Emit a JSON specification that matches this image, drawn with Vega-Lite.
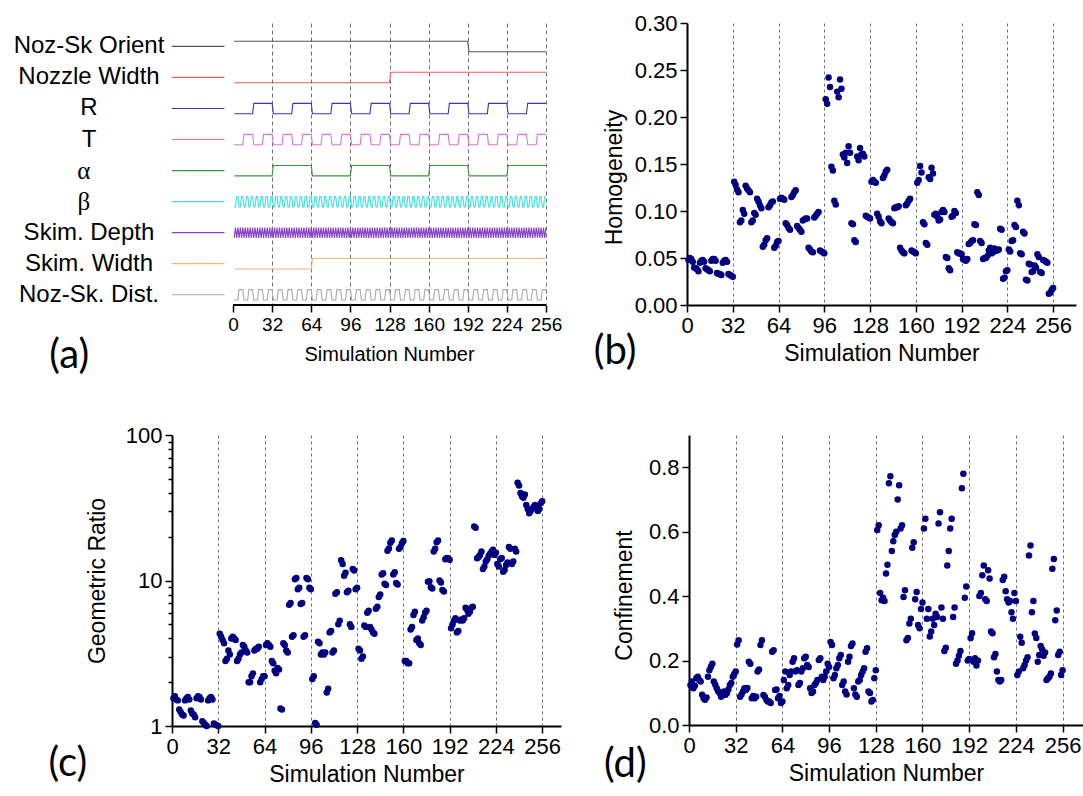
{
"$schema":"https://vega.github.io/schema/vega-lite/v6.json",
"autosize":{"type":"pad"},
"padding":{"left":13,"top":12,"right":0,"bottom":0},
"bounds":"flush",
"spacing":412,
"config":{
 "view":{"stroke":null},
 "font":"Liberation Sans",
 "axis":{"domainColor":"#000","domainWidth":2,"tickColor":"#000","tickWidth":1.5,"labelColor":"#000","labelFont":"Liberation Sans","labelFontSize":22,"titleFont":"Liberation Sans","titleFontSize":23,"titleFontWeight":"normal","titleColor":"#000","labelFlush":false,"labelOverlap":false,"labelBound":false,"grid":false,"labelPadding":3}
},
"datasets":{
"sig":[{"k":"o","lab":"Noz-Sk Orient"},{"k":"w","lab":"Nozzle Width"},{"k":"r","lab":"R"},{"k":"t","lab":"T"},{"k":"a","lab":"α"},{"k":"b","lab":"β"},{"k":"d","lab":"Skim. Depth"},{"k":"s","lab":"Skim. Width"},{"k":"z","lab":"Noz-Sk. Dist."}],
"sim":[
{"n":1,"o":1,"w":0,"s":0,"a":0,"r":0,"t":0,"z":0,"b":0,"d":0,"h":0.048,"q":1.55,"c":0.124},
{"n":2,"o":1,"w":0,"s":0,"a":0,"r":0,"t":0,"z":0,"b":0,"d":1,"h":0.050,"q":1.6,"c":0.135},
{"n":3,"o":1,"w":0,"s":0,"a":0,"r":0,"t":0,"z":0,"b":1,"d":0,"h":0.049,"q":1.52,"c":0.114},
{"n":4,"o":1,"w":0,"s":0,"a":0,"r":0,"t":0,"z":0,"b":1,"d":1,"h":0.046,"q":1.5,"c":0.122},
{"n":5,"o":1,"w":0,"s":0,"a":0,"r":0,"t":0,"z":1,"b":0,"d":0,"h":0.040,"q":1.3,"c":0.145},
{"n":6,"o":1,"w":0,"s":0,"a":0,"r":0,"t":0,"z":1,"b":0,"d":1,"h":0.039,"q":1.25,"c":0.15},
{"n":7,"o":1,"w":0,"s":0,"a":0,"r":0,"t":0,"z":1,"b":1,"d":0,"h":0.038,"q":1.2,"c":0.14},
{"n":8,"o":1,"w":0,"s":0,"a":0,"r":0,"t":0,"z":1,"b":1,"d":1,"h":0.036,"q":1.18,"c":0.135},
{"n":9,"o":1,"w":0,"s":0,"a":0,"r":0,"t":1,"z":0,"b":0,"d":0,"h":0.045,"q":1.5,"c":0.094},
{"n":10,"o":1,"w":0,"s":0,"a":0,"r":0,"t":1,"z":0,"b":0,"d":1,"h":0.047,"q":1.55,"c":0.083},
{"n":11,"o":1,"w":0,"s":0,"a":0,"r":0,"t":1,"z":0,"b":1,"d":0,"h":0.048,"q":1.58,"c":0.078},
{"n":12,"o":1,"w":0,"s":0,"a":0,"r":0,"t":1,"z":0,"b":1,"d":1,"h":0.046,"q":1.52,"c":0.085},
{"n":13,"o":1,"w":0,"s":0,"a":0,"r":0,"t":1,"z":1,"b":0,"d":0,"h":0.039,"q":1.28,"c":0.15},
{"n":14,"o":1,"w":0,"s":0,"a":0,"r":0,"t":1,"z":1,"b":0,"d":1,"h":0.038,"q":1.22,"c":0.17},
{"n":15,"o":1,"w":0,"s":0,"a":0,"r":0,"t":1,"z":1,"b":1,"d":0,"h":0.037,"q":1.2,"c":0.181},
{"n":16,"o":1,"w":0,"s":0,"a":0,"r":0,"t":1,"z":1,"b":1,"d":1,"h":0.036,"q":1.15,"c":0.19},
{"n":17,"o":1,"w":0,"s":0,"a":0,"r":1,"t":0,"z":0,"b":0,"d":0,"h":0.047,"q":1.55,"c":0.135},
{"n":18,"o":1,"w":0,"s":0,"a":0,"r":1,"t":0,"z":0,"b":0,"d":1,"h":0.049,"q":1.6,"c":0.125},
{"n":19,"o":1,"w":0,"s":0,"a":0,"r":1,"t":0,"z":0,"b":1,"d":0,"h":0.049,"q":1.58,"c":0.114},
{"n":20,"o":1,"w":0,"s":0,"a":0,"r":1,"t":0,"z":0,"b":1,"d":1,"h":0.047,"q":1.52,"c":0.105},
{"n":21,"o":1,"w":0,"s":0,"a":0,"r":1,"t":0,"z":1,"b":0,"d":0,"h":0.034,"q":1.08,"c":0.099},
{"n":22,"o":1,"w":0,"s":0,"a":0,"r":1,"t":0,"z":1,"b":0,"d":1,"h":0.033,"q":1.05,"c":0.088},
{"n":23,"o":1,"w":0,"s":0,"a":0,"r":1,"t":0,"z":1,"b":1,"d":0,"h":0.033,"q":1.02,"c":0.092},
{"n":24,"o":1,"w":0,"s":0,"a":0,"r":1,"t":0,"z":1,"b":1,"d":1,"h":0.032,"q":1.0,"c":0.104},
{"n":25,"o":1,"w":0,"s":0,"a":0,"r":1,"t":1,"z":0,"b":0,"d":0,"h":0.045,"q":1.5,"c":0.094},
{"n":26,"o":1,"w":0,"s":0,"a":0,"r":1,"t":1,"z":0,"b":0,"d":1,"h":0.047,"q":1.55,"c":0.099},
{"n":27,"o":1,"w":0,"s":0,"a":0,"r":1,"t":1,"z":0,"b":1,"d":0,"h":0.048,"q":1.58,"c":0.11},
{"n":28,"o":1,"w":0,"s":0,"a":0,"r":1,"t":1,"z":0,"b":1,"d":1,"h":0.046,"q":1.52,"c":0.124},
{"n":29,"o":1,"w":0,"s":0,"a":0,"r":1,"t":1,"z":1,"b":0,"d":0,"h":0.033,"q":1.04,"c":0.13},
{"n":30,"o":1,"w":0,"s":0,"a":0,"r":1,"t":1,"z":1,"b":0,"d":1,"h":0.032,"q":1.02,"c":0.15},
{"n":31,"o":1,"w":0,"s":0,"a":0,"r":1,"t":1,"z":1,"b":1,"d":0,"h":0.031,"q":1.01,"c":0.158},
{"n":32,"o":1,"w":0,"s":0,"a":0,"r":1,"t":1,"z":1,"b":1,"d":1,"h":0.030,"q":1.0,"c":0.166},
{"n":33,"o":1,"w":0,"s":0,"a":1,"r":0,"t":0,"z":0,"b":0,"d":0,"h":0.131,"q":4.3,"c":0.25},
{"n":34,"o":1,"w":0,"s":0,"a":1,"r":0,"t":0,"z":0,"b":0,"d":1,"h":0.128,"q":4.1,"c":0.263},
{"n":35,"o":1,"w":0,"s":0,"a":1,"r":0,"t":0,"z":0,"b":1,"d":0,"h":0.123,"q":3.9,"c":0.088},
{"n":36,"o":1,"w":0,"s":0,"a":1,"r":0,"t":0,"z":0,"b":1,"d":1,"h":0.120,"q":3.7,"c":0.095},
{"n":37,"o":1,"w":0,"s":0,"a":1,"r":0,"t":0,"z":1,"b":0,"d":0,"h":0.088,"q":2.8,"c":0.104},
{"n":38,"o":1,"w":0,"s":0,"a":1,"r":0,"t":0,"z":1,"b":0,"d":1,"h":0.090,"q":2.9,"c":0.114},
{"n":39,"o":1,"w":0,"s":0,"a":1,"r":0,"t":0,"z":1,"b":1,"d":0,"h":0.101,"q":3.3,"c":0.109},
{"n":40,"o":1,"w":0,"s":0,"a":1,"r":0,"t":0,"z":1,"b":1,"d":1,"h":0.097,"q":3.1,"c":0.115},
{"n":41,"o":1,"w":0,"s":0,"a":1,"r":0,"t":1,"z":0,"b":0,"d":0,"h":0.127,"q":4.0,"c":0.196},
{"n":42,"o":1,"w":0,"s":0,"a":1,"r":0,"t":1,"z":0,"b":0,"d":1,"h":0.124,"q":4.1,"c":0.19},
{"n":43,"o":1,"w":0,"s":0,"a":1,"r":0,"t":1,"z":0,"b":1,"d":0,"h":0.122,"q":4.0,"c":0.083},
{"n":44,"o":1,"w":0,"s":0,"a":1,"r":0,"t":1,"z":0,"b":1,"d":1,"h":0.120,"q":3.9,"c":0.09},
{"n":45,"o":1,"w":0,"s":0,"a":1,"r":0,"t":1,"z":1,"b":0,"d":0,"h":0.088,"q":2.8,"c":0.083},
{"n":46,"o":1,"w":0,"s":0,"a":1,"r":0,"t":1,"z":1,"b":0,"d":1,"h":0.090,"q":2.9,"c":0.088},
{"n":47,"o":1,"w":0,"s":0,"a":1,"r":0,"t":1,"z":1,"b":1,"d":0,"h":0.098,"q":3.1,"c":0.166},
{"n":48,"o":1,"w":0,"s":0,"a":1,"r":0,"t":1,"z":1,"b":1,"d":1,"h":0.096,"q":3.2,"c":0.172},
{"n":49,"o":1,"w":0,"s":0,"a":1,"r":1,"t":0,"z":0,"b":0,"d":0,"h":0.113,"q":3.6,"c":0.248},
{"n":50,"o":1,"w":0,"s":0,"a":1,"r":1,"t":0,"z":0,"b":0,"d":1,"h":0.110,"q":3.5,"c":0.263},
{"n":51,"o":1,"w":0,"s":0,"a":1,"r":1,"t":0,"z":0,"b":1,"d":0,"h":0.106,"q":3.3,"c":0.093},
{"n":52,"o":1,"w":0,"s":0,"a":1,"r":1,"t":0,"z":0,"b":1,"d":1,"h":0.103,"q":3.2,"c":0.088},
{"n":53,"o":1,"w":0,"s":0,"a":1,"r":1,"t":0,"z":1,"b":0,"d":0,"h":0.062,"q":2.0,"c":0.078},
{"n":54,"o":1,"w":0,"s":0,"a":1,"r":1,"t":0,"z":1,"b":0,"d":1,"h":0.064,"q":2.0,"c":0.073},
{"n":55,"o":1,"w":0,"s":0,"a":1,"r":1,"t":0,"z":1,"b":1,"d":0,"h":0.069,"q":2.2,"c":0.073},
{"n":56,"o":1,"w":0,"s":0,"a":1,"r":1,"t":0,"z":1,"b":1,"d":1,"h":0.071,"q":2.3,"c":0.068},
{"n":57,"o":1,"w":0,"s":0,"a":1,"r":1,"t":1,"z":0,"b":0,"d":0,"h":0.104,"q":3.3,"c":0.227},
{"n":58,"o":1,"w":0,"s":0,"a":1,"r":1,"t":1,"z":0,"b":0,"d":1,"h":0.106,"q":3.4,"c":0.232},
{"n":59,"o":1,"w":0,"s":0,"a":1,"r":1,"t":1,"z":0,"b":1,"d":0,"h":0.109,"q":3.4,"c":0.109},
{"n":60,"o":1,"w":0,"s":0,"a":1,"r":1,"t":1,"z":0,"b":1,"d":1,"h":0.110,"q":3.5,"c":0.11},
{"n":61,"o":1,"w":0,"s":0,"a":1,"r":1,"t":1,"z":1,"b":0,"d":0,"h":0.061,"q":2.0,"c":0.083},
{"n":62,"o":1,"w":0,"s":0,"a":1,"r":1,"t":1,"z":1,"b":0,"d":1,"h":0.063,"q":2.1,"c":0.09},
{"n":63,"o":1,"w":0,"s":0,"a":1,"r":1,"t":1,"z":1,"b":1,"d":0,"h":0.067,"q":2.2,"c":0.068},
{"n":64,"o":1,"w":0,"s":0,"a":1,"r":1,"t":1,"z":1,"b":1,"d":1,"h":0.068,"q":2.2,"c":0.073},
{"n":65,"o":1,"w":0,"s":1,"a":0,"r":0,"t":0,"z":0,"b":0,"d":0,"h":0.113,"q":3.6,"c":0.14},
{"n":66,"o":1,"w":0,"s":1,"a":0,"r":0,"t":0,"z":0,"b":0,"d":1,"h":0.114,"q":3.7,"c":0.166},
{"n":67,"o":1,"w":0,"s":1,"a":0,"r":0,"t":0,"z":0,"b":1,"d":0,"h":0.113,"q":3.6,"c":0.114},
{"n":68,"o":1,"w":0,"s":1,"a":0,"r":0,"t":0,"z":0,"b":1,"d":1,"h":0.112,"q":3.5,"c":0.124},
{"n":69,"o":1,"w":0,"s":1,"a":0,"r":0,"t":0,"z":1,"b":0,"d":0,"h":0.087,"q":2.8,"c":0.155},
{"n":70,"o":1,"w":0,"s":1,"a":0,"r":0,"t":0,"z":1,"b":0,"d":1,"h":0.085,"q":2.7,"c":0.166},
{"n":71,"o":1,"w":0,"s":1,"a":0,"r":0,"t":0,"z":1,"b":1,"d":0,"h":0.082,"q":2.4,"c":0.196},
{"n":72,"o":1,"w":0,"s":1,"a":0,"r":0,"t":0,"z":1,"b":1,"d":1,"h":0.080,"q":2.3,"c":0.207},
{"n":73,"o":1,"w":0,"s":1,"a":0,"r":0,"t":1,"z":0,"b":0,"d":0,"h":0.115,"q":2.5,"c":0.166},
{"n":74,"o":1,"w":0,"s":1,"a":0,"r":0,"t":1,"z":0,"b":0,"d":1,"h":0.117,"q":2.45,"c":0.17},
{"n":75,"o":1,"w":0,"s":1,"a":0,"r":0,"t":1,"z":0,"b":1,"d":0,"h":0.120,"q":1.32,"c":0.124},
{"n":76,"o":1,"w":0,"s":1,"a":0,"r":0,"t":1,"z":0,"b":1,"d":1,"h":0.122,"q":1.3,"c":0.13},
{"n":77,"o":1,"w":0,"s":1,"a":0,"r":0,"t":1,"z":1,"b":0,"d":0,"h":0.084,"q":3.7,"c":0.166},
{"n":78,"o":1,"w":0,"s":1,"a":0,"r":0,"t":1,"z":1,"b":0,"d":1,"h":0.082,"q":3.6,"c":0.176},
{"n":79,"o":1,"w":0,"s":1,"a":0,"r":0,"t":1,"z":1,"b":1,"d":0,"h":0.080,"q":3.3,"c":0.207},
{"n":80,"o":1,"w":0,"s":1,"a":0,"r":0,"t":1,"z":1,"b":1,"d":1,"h":0.078,"q":3.2,"c":0.212},
{"n":81,"o":1,"w":0,"s":1,"a":0,"r":1,"t":0,"z":0,"b":0,"d":0,"h":0.090,"q":6.8,"c":0.186},
{"n":82,"o":1,"w":0,"s":1,"a":0,"r":1,"t":0,"z":0,"b":0,"d":1,"h":0.091,"q":7.0,"c":0.18},
{"n":83,"o":1,"w":0,"s":1,"a":0,"r":1,"t":0,"z":0,"b":1,"d":0,"h":0.092,"q":4.1,"c":0.114},
{"n":84,"o":1,"w":0,"s":1,"a":0,"r":1,"t":0,"z":0,"b":1,"d":1,"h":0.092,"q":4.2,"c":0.099},
{"n":85,"o":1,"w":0,"s":1,"a":0,"r":1,"t":0,"z":1,"b":0,"d":0,"h":0.061,"q":10.2,"c":0.104},
{"n":86,"o":1,"w":0,"s":1,"a":0,"r":1,"t":0,"z":1,"b":0,"d":1,"h":0.059,"q":10.4,"c":0.124},
{"n":87,"o":1,"w":0,"s":1,"a":0,"r":1,"t":0,"z":1,"b":1,"d":0,"h":0.057,"q":8.7,"c":0.13},
{"n":88,"o":1,"w":0,"s":1,"a":0,"r":1,"t":0,"z":1,"b":1,"d":1,"h":0.056,"q":8.9,"c":0.14},
{"n":89,"o":1,"w":0,"s":1,"a":0,"r":1,"t":1,"z":0,"b":0,"d":0,"h":0.093,"q":6.9,"c":0.202},
{"n":90,"o":1,"w":0,"s":1,"a":0,"r":1,"t":1,"z":0,"b":0,"d":1,"h":0.095,"q":7.0,"c":0.207},
{"n":91,"o":1,"w":0,"s":1,"a":0,"r":1,"t":1,"z":0,"b":1,"d":0,"h":0.097,"q":4.1,"c":0.15},
{"n":92,"o":1,"w":0,"s":1,"a":0,"r":1,"t":1,"z":0,"b":1,"d":1,"h":0.099,"q":4.2,"c":0.14},
{"n":93,"o":1,"w":0,"s":1,"a":0,"r":1,"t":1,"z":1,"b":0,"d":0,"h":0.058,"q":10.4,"c":0.15},
{"n":94,"o":1,"w":0,"s":1,"a":0,"r":1,"t":1,"z":1,"b":0,"d":1,"h":0.057,"q":10.2,"c":0.166},
{"n":95,"o":1,"w":0,"s":1,"a":0,"r":1,"t":1,"z":1,"b":1,"d":0,"h":0.056,"q":8.9,"c":0.19},
{"n":96,"o":1,"w":0,"s":1,"a":0,"r":1,"t":1,"z":1,"b":1,"d":1,"h":0.055,"q":8.7,"c":0.18},
{"n":97,"o":1,"w":0,"s":1,"a":1,"r":0,"t":0,"z":0,"b":0,"d":0,"h":0.219,"q":2.1,"c":0.258},
{"n":98,"o":1,"w":0,"s":1,"a":1,"r":0,"t":0,"z":0,"b":0,"d":1,"h":0.214,"q":2.2,"c":0.248},
{"n":99,"o":1,"w":0,"s":1,"a":1,"r":0,"t":0,"z":0,"b":1,"d":0,"h":0.242,"q":1.05,"c":0.145},
{"n":100,"o":1,"w":0,"s":1,"a":1,"r":0,"t":0,"z":0,"b":1,"d":1,"h":0.232,"q":1.02,"c":0.155},
{"n":101,"o":1,"w":0,"s":1,"a":1,"r":0,"t":0,"z":1,"b":0,"d":0,"h":0.147,"q":3.8,"c":0.176},
{"n":102,"o":1,"w":0,"s":1,"a":1,"r":0,"t":0,"z":1,"b":0,"d":1,"h":0.143,"q":3.7,"c":0.186},
{"n":103,"o":1,"w":0,"s":1,"a":1,"r":0,"t":0,"z":1,"b":1,"d":0,"h":0.111,"q":3.1,"c":0.207},
{"n":104,"o":1,"w":0,"s":1,"a":1,"r":0,"t":0,"z":1,"b":1,"d":1,"h":0.107,"q":3.2,"c":0.217},
{"n":105,"o":1,"w":0,"s":1,"a":1,"r":0,"t":1,"z":0,"b":0,"d":0,"h":0.227,"q":3.1,"c":0.124},
{"n":106,"o":1,"w":0,"s":1,"a":1,"r":0,"t":1,"z":0,"b":0,"d":1,"h":0.221,"q":3.2,"c":0.135},
{"n":107,"o":1,"w":0,"s":1,"a":1,"r":0,"t":1,"z":0,"b":1,"d":0,"h":0.240,"q":1.7,"c":0.104},
{"n":108,"o":1,"w":0,"s":1,"a":1,"r":0,"t":1,"z":0,"b":1,"d":1,"h":0.230,"q":1.8,"c":0.095},
{"n":109,"o":1,"w":0,"s":1,"a":1,"r":0,"t":1,"z":1,"b":0,"d":0,"h":0.160,"q":4.4,"c":0.196},
{"n":110,"o":1,"w":0,"s":1,"a":1,"r":0,"t":1,"z":1,"b":0,"d":1,"h":0.157,"q":4.5,"c":0.212},
{"n":111,"o":1,"w":0,"s":1,"a":1,"r":0,"t":1,"z":1,"b":1,"d":0,"h":0.162,"q":3.2,"c":0.245},
{"n":112,"o":1,"w":0,"s":1,"a":1,"r":0,"t":1,"z":1,"b":1,"d":1,"h":0.151,"q":3.3,"c":0.253},
{"n":113,"o":1,"w":0,"s":1,"a":1,"r":1,"t":0,"z":0,"b":0,"d":0,"h":0.169,"q":8.1,"c":0.114},
{"n":114,"o":1,"w":0,"s":1,"a":1,"r":1,"t":0,"z":0,"b":0,"d":1,"h":0.162,"q":8.3,"c":0.095},
{"n":115,"o":1,"w":0,"s":1,"a":1,"r":1,"t":0,"z":0,"b":1,"d":0,"h":0.087,"q":5.0,"c":0.088},
{"n":116,"o":1,"w":0,"s":1,"a":1,"r":1,"t":0,"z":0,"b":1,"d":1,"h":0.086,"q":5.3,"c":0.135},
{"n":117,"o":1,"w":0,"s":1,"a":1,"r":1,"t":0,"z":1,"b":0,"d":0,"h":0.069,"q":13.8,"c":0.14},
{"n":118,"o":1,"w":0,"s":1,"a":1,"r":1,"t":0,"z":1,"b":0,"d":1,"h":0.067,"q":13.0,"c":0.155},
{"n":119,"o":1,"w":0,"s":1,"a":1,"r":1,"t":0,"z":1,"b":1,"d":0,"h":0.158,"q":10.8,"c":0.166},
{"n":120,"o":1,"w":0,"s":1,"a":1,"r":1,"t":0,"z":1,"b":1,"d":1,"h":0.154,"q":11.3,"c":0.176},
{"n":121,"o":1,"w":0,"s":1,"a":1,"r":1,"t":1,"z":0,"b":0,"d":0,"h":0.167,"q":8.3,"c":0.227},
{"n":122,"o":1,"w":0,"s":1,"a":1,"r":1,"t":1,"z":0,"b":0,"d":1,"h":0.160,"q":8.5,"c":0.238},
{"n":123,"o":1,"w":0,"s":1,"a":1,"r":1,"t":1,"z":0,"b":1,"d":0,"h":0.161,"q":5.0,"c":0.104},
{"n":124,"o":1,"w":0,"s":1,"a":1,"r":1,"t":1,"z":0,"b":1,"d":1,"h":0.158,"q":4.8,"c":0.099},
{"n":125,"o":1,"w":0,"s":1,"a":1,"r":1,"t":1,"z":1,"b":0,"d":0,"h":0.095,"q":12.0,"c":0.073},
{"n":126,"o":1,"w":0,"s":1,"a":1,"r":1,"t":1,"z":1,"b":0,"d":1,"h":0.094,"q":11.7,"c":0.078},
{"n":127,"o":1,"w":0,"s":1,"a":1,"r":1,"t":1,"z":1,"b":1,"d":0,"h":0.093,"q":8.7,"c":0.145},
{"n":128,"o":1,"w":0,"s":1,"a":1,"r":1,"t":1,"z":1,"b":1,"d":1,"h":0.092,"q":8.9,"c":0.17},
{"n":129,"o":1,"w":1,"s":1,"a":0,"r":0,"t":0,"z":0,"b":0,"d":0,"h":0.131,"q":3.4,"c":0.605},
{"n":130,"o":1,"w":1,"s":1,"a":0,"r":0,"t":0,"z":0,"b":0,"d":1,"h":0.133,"q":3.3,"c":0.62},
{"n":131,"o":1,"w":1,"s":1,"a":0,"r":0,"t":0,"z":0,"b":1,"d":0,"h":0.131,"q":2.9,"c":0.41},
{"n":132,"o":1,"w":1,"s":1,"a":0,"r":0,"t":0,"z":0,"b":1,"d":1,"h":0.130,"q":3.0,"c":0.387},
{"n":133,"o":1,"w":1,"s":1,"a":0,"r":0,"t":0,"z":1,"b":0,"d":0,"h":0.097,"q":4.9,"c":0.395},
{"n":134,"o":1,"w":1,"s":1,"a":0,"r":0,"t":0,"z":1,"b":0,"d":1,"h":0.094,"q":4.8,"c":0.385},
{"n":135,"o":1,"w":1,"s":1,"a":0,"r":0,"t":0,"z":1,"b":1,"d":0,"h":0.089,"q":6.0,"c":0.47},
{"n":136,"o":1,"w":1,"s":1,"a":0,"r":0,"t":0,"z":1,"b":1,"d":1,"h":0.087,"q":6.2,"c":0.497},
{"n":137,"o":1,"w":1,"s":1,"a":0,"r":0,"t":1,"z":0,"b":0,"d":0,"h":0.135,"q":4.8,"c":0.75},
{"n":138,"o":1,"w":1,"s":1,"a":0,"r":0,"t":1,"z":0,"b":0,"d":1,"h":0.138,"q":4.6,"c":0.772},
{"n":139,"o":1,"w":1,"s":1,"a":0,"r":0,"t":1,"z":0,"b":1,"d":0,"h":0.142,"q":4.4,"c":0.54},
{"n":140,"o":1,"w":1,"s":1,"a":0,"r":0,"t":1,"z":0,"b":1,"d":1,"h":0.144,"q":4.3,"c":0.57},
{"n":141,"o":1,"w":1,"s":1,"a":0,"r":0,"t":1,"z":1,"b":0,"d":0,"h":0.092,"q":6.4,"c":0.59},
{"n":142,"o":1,"w":1,"s":1,"a":0,"r":0,"t":1,"z":1,"b":0,"d":1,"h":0.090,"q":6.6,"c":0.60},
{"n":143,"o":1,"w":1,"s":1,"a":0,"r":0,"t":1,"z":1,"b":1,"d":0,"h":0.088,"q":7.7,"c":0.70},
{"n":144,"o":1,"w":1,"s":1,"a":0,"r":0,"t":1,"z":1,"b":1,"d":1,"h":0.087,"q":8.0,"c":0.744},
{"n":145,"o":1,"w":1,"s":1,"a":0,"r":1,"t":0,"z":0,"b":0,"d":0,"h":0.103,"q":11.0,"c":0.61},
{"n":146,"o":1,"w":1,"s":1,"a":0,"r":1,"t":0,"z":0,"b":0,"d":1,"h":0.104,"q":11.2,"c":0.62},
{"n":147,"o":1,"w":1,"s":1,"a":0,"r":1,"t":0,"z":0,"b":1,"d":0,"h":0.104,"q":9.5,"c":0.397},
{"n":148,"o":1,"w":1,"s":1,"a":0,"r":1,"t":0,"z":0,"b":1,"d":1,"h":0.105,"q":9.3,"c":0.418},
{"n":149,"o":1,"w":1,"s":1,"a":0,"r":1,"t":0,"z":1,"b":0,"d":0,"h":0.061,"q":16.0,"c":0.263},
{"n":150,"o":1,"w":1,"s":1,"a":0,"r":1,"t":0,"z":1,"b":0,"d":1,"h":0.058,"q":16.6,"c":0.27},
{"n":151,"o":1,"w":1,"s":1,"a":0,"r":1,"t":0,"z":1,"b":1,"d":0,"h":0.056,"q":18.2,"c":0.315},
{"n":152,"o":1,"w":1,"s":1,"a":0,"r":1,"t":0,"z":1,"b":1,"d":1,"h":0.055,"q":18.8,"c":0.33},
{"n":153,"o":1,"w":1,"s":1,"a":0,"r":1,"t":1,"z":0,"b":0,"d":0,"h":0.106,"q":11.0,"c":0.55},
{"n":154,"o":1,"w":1,"s":1,"a":0,"r":1,"t":1,"z":0,"b":0,"d":1,"h":0.108,"q":11.4,"c":0.567},
{"n":155,"o":1,"w":1,"s":1,"a":0,"r":1,"t":1,"z":0,"b":1,"d":0,"h":0.111,"q":9.6,"c":0.39},
{"n":156,"o":1,"w":1,"s":1,"a":0,"r":1,"t":1,"z":0,"b":1,"d":1,"h":0.113,"q":9.4,"c":0.413},
{"n":157,"o":1,"w":1,"s":1,"a":0,"r":1,"t":1,"z":1,"b":0,"d":0,"h":0.058,"q":16.5,"c":0.31},
{"n":158,"o":1,"w":1,"s":1,"a":0,"r":1,"t":1,"z":1,"b":0,"d":1,"h":0.057,"q":17.0,"c":0.30},
{"n":159,"o":1,"w":1,"s":1,"a":0,"r":1,"t":1,"z":1,"b":1,"d":0,"h":0.056,"q":18.0,"c":0.36},
{"n":160,"o":1,"w":1,"s":1,"a":0,"r":1,"t":1,"z":1,"b":1,"d":1,"h":0.055,"q":18.7,"c":0.38},
{"n":161,"o":1,"w":1,"s":1,"a":1,"r":0,"t":0,"z":0,"b":0,"d":0,"h":0.130,"q":2.8,"c":0.61},
{"n":162,"o":1,"w":1,"s":1,"a":1,"r":0,"t":0,"z":0,"b":0,"d":1,"h":0.133,"q":2.8,"c":0.64},
{"n":163,"o":1,"w":1,"s":1,"a":1,"r":0,"t":0,"z":0,"b":1,"d":0,"h":0.148,"q":2.7,"c":0.33},
{"n":164,"o":1,"w":1,"s":1,"a":1,"r":0,"t":0,"z":0,"b":1,"d":1,"h":0.141,"q":2.7,"c":0.36},
{"n":165,"o":1,"w":1,"s":1,"a":1,"r":0,"t":0,"z":1,"b":0,"d":0,"h":0.088,"q":4.6,"c":0.275},
{"n":166,"o":1,"w":1,"s":1,"a":1,"r":0,"t":0,"z":1,"b":0,"d":1,"h":0.086,"q":4.8,"c":0.29},
{"n":167,"o":1,"w":1,"s":1,"a":1,"r":0,"t":0,"z":1,"b":1,"d":0,"h":0.066,"q":5.8,"c":0.33},
{"n":168,"o":1,"w":1,"s":1,"a":1,"r":0,"t":0,"z":1,"b":1,"d":1,"h":0.064,"q":6.1,"c":0.31},
{"n":169,"o":1,"w":1,"s":1,"a":1,"r":0,"t":1,"z":0,"b":0,"d":0,"h":0.136,"q":3.9,"c":0.345},
{"n":170,"o":1,"w":1,"s":1,"a":1,"r":0,"t":1,"z":0,"b":0,"d":1,"h":0.134,"q":4.0,"c":0.335},
{"n":171,"o":1,"w":1,"s":1,"a":1,"r":0,"t":1,"z":0,"b":1,"d":0,"h":0.146,"q":3.7,"c":0.625},
{"n":172,"o":1,"w":1,"s":1,"a":1,"r":0,"t":1,"z":0,"b":1,"d":1,"h":0.140,"q":3.6,"c":0.66},
{"n":173,"o":1,"w":1,"s":1,"a":1,"r":0,"t":1,"z":1,"b":0,"d":0,"h":0.096,"q":5.3,"c":0.365},
{"n":174,"o":1,"w":1,"s":1,"a":1,"r":0,"t":1,"z":1,"b":0,"d":1,"h":0.097,"q":5.6,"c":0.33},
{"n":175,"o":1,"w":1,"s":1,"a":1,"r":0,"t":1,"z":1,"b":1,"d":0,"h":0.094,"q":6.0,"c":0.23},
{"n":176,"o":1,"w":1,"s":1,"a":1,"r":0,"t":1,"z":1,"b":1,"d":1,"h":0.090,"q":6.2,"c":0.24},
{"n":177,"o":1,"w":1,"s":1,"a":1,"r":1,"t":0,"z":0,"b":0,"d":0,"h":0.091,"q":9.8,"c":0.495},
{"n":178,"o":1,"w":1,"s":1,"a":1,"r":1,"t":0,"z":0,"b":0,"d":1,"h":0.099,"q":9.9,"c":0.54},
{"n":179,"o":1,"w":1,"s":1,"a":1,"r":1,"t":0,"z":0,"b":1,"d":0,"h":0.101,"q":9.0,"c":0.61},
{"n":180,"o":1,"w":1,"s":1,"a":1,"r":1,"t":0,"z":0,"b":1,"d":1,"h":0.099,"q":8.8,"c":0.64},
{"n":181,"o":1,"w":1,"s":1,"a":1,"r":1,"t":0,"z":1,"b":0,"d":0,"h":0.051,"q":15.8,"c":0.335},
{"n":182,"o":1,"w":1,"s":1,"a":1,"r":1,"t":0,"z":1,"b":0,"d":1,"h":0.050,"q":16.5,"c":0.365},
{"n":183,"o":1,"w":1,"s":1,"a":1,"r":1,"t":0,"z":1,"b":1,"d":0,"h":0.039,"q":18.3,"c":0.19},
{"n":184,"o":1,"w":1,"s":1,"a":1,"r":1,"t":0,"z":1,"b":1,"d":1,"h":0.037,"q":18.8,"c":0.20},
{"n":185,"o":1,"w":1,"s":1,"a":1,"r":1,"t":1,"z":0,"b":0,"d":0,"h":0.094,"q":10.0,"c":0.215},
{"n":186,"o":1,"w":1,"s":1,"a":1,"r":1,"t":1,"z":0,"b":0,"d":1,"h":0.095,"q":9.7,"c":0.23},
{"n":187,"o":1,"w":1,"s":1,"a":1,"r":1,"t":1,"z":0,"b":1,"d":0,"h":0.100,"q":8.6,"c":0.735},
{"n":188,"o":1,"w":1,"s":1,"a":1,"r":1,"t":1,"z":0,"b":1,"d":1,"h":0.098,"q":8.4,"c":0.78},
{"n":189,"o":1,"w":1,"s":1,"a":1,"r":1,"t":1,"z":1,"b":0,"d":0,"h":0.056,"q":14.0,"c":0.395},
{"n":190,"o":1,"w":1,"s":1,"a":1,"r":1,"t":1,"z":1,"b":0,"d":1,"h":0.055,"q":14.3,"c":0.43},
{"n":191,"o":1,"w":1,"s":1,"a":1,"r":1,"t":1,"z":1,"b":1,"d":0,"h":0.055,"q":14.2,"c":0.20},
{"n":192,"o":1,"w":1,"s":1,"a":1,"r":1,"t":1,"z":1,"b":1,"d":1,"h":0.054,"q":13.9,"c":0.205},
{"n":193,"o":0,"w":1,"s":1,"a":0,"r":0,"t":0,"z":0,"b":0,"d":0,"h":0.049,"q":4.7,"c":0.27},
{"n":194,"o":0,"w":1,"s":1,"a":0,"r":0,"t":0,"z":0,"b":0,"d":1,"h":0.048,"q":5.0,"c":0.285},
{"n":195,"o":0,"w":1,"s":1,"a":0,"r":0,"t":0,"z":0,"b":1,"d":0,"h":0.047,"q":5.3,"c":0.196},
{"n":196,"o":0,"w":1,"s":1,"a":0,"r":0,"t":0,"z":0,"b":1,"d":1,"h":0.049,"q":5.5,"c":0.207},
{"n":197,"o":0,"w":1,"s":1,"a":0,"r":0,"t":0,"z":1,"b":0,"d":0,"h":0.065,"q":4.4,"c":0.185},
{"n":198,"o":0,"w":1,"s":1,"a":0,"r":0,"t":0,"z":1,"b":0,"d":1,"h":0.066,"q":4.5,"c":0.20},
{"n":199,"o":0,"w":1,"s":1,"a":0,"r":0,"t":0,"z":1,"b":1,"d":0,"h":0.068,"q":5.3,"c":0.40},
{"n":200,"o":0,"w":1,"s":1,"a":0,"r":0,"t":0,"z":1,"b":1,"d":1,"h":0.069,"q":5.4,"c":0.41},
{"n":201,"o":0,"w":1,"s":1,"a":0,"r":0,"t":1,"z":0,"b":0,"d":0,"h":0.086,"q":5.3,"c":0.465},
{"n":202,"o":0,"w":1,"s":1,"a":0,"r":0,"t":1,"z":0,"b":0,"d":1,"h":0.085,"q":5.5,"c":0.495},
{"n":203,"o":0,"w":1,"s":1,"a":0,"r":0,"t":1,"z":0,"b":1,"d":0,"h":0.120,"q":6.5,"c":0.39},
{"n":204,"o":0,"w":1,"s":1,"a":0,"r":0,"t":1,"z":0,"b":1,"d":1,"h":0.117,"q":6.3,"c":0.385},
{"n":205,"o":0,"w":1,"s":1,"a":0,"r":0,"t":1,"z":1,"b":0,"d":0,"h":0.068,"q":5.9,"c":0.48},
{"n":206,"o":0,"w":1,"s":1,"a":0,"r":0,"t":1,"z":1,"b":0,"d":1,"h":0.066,"q":6.1,"c":0.455},
{"n":207,"o":0,"w":1,"s":1,"a":0,"r":0,"t":1,"z":1,"b":1,"d":0,"h":0.049,"q":6.5,"c":0.29},
{"n":208,"o":0,"w":1,"s":1,"a":0,"r":0,"t":1,"z":1,"b":1,"d":1,"h":0.050,"q":6.6,"c":0.285},
{"n":209,"o":0,"w":1,"s":1,"a":0,"r":1,"t":0,"z":0,"b":0,"d":0,"h":0.050,"q":23.5,"c":0.21},
{"n":210,"o":0,"w":1,"s":1,"a":0,"r":1,"t":0,"z":0,"b":0,"d":1,"h":0.052,"q":23.0,"c":0.22},
{"n":211,"o":0,"w":1,"s":1,"a":0,"r":1,"t":0,"z":0,"b":1,"d":0,"h":0.058,"q":14.2,"c":0.166},
{"n":212,"o":0,"w":1,"s":1,"a":0,"r":1,"t":0,"z":0,"b":1,"d":1,"h":0.061,"q":14.5,"c":0.14},
{"n":213,"o":0,"w":1,"s":1,"a":0,"r":1,"t":0,"z":1,"b":0,"d":0,"h":0.055,"q":15.0,"c":0.135},
{"n":214,"o":0,"w":1,"s":1,"a":0,"r":1,"t":0,"z":1,"b":0,"d":1,"h":0.056,"q":15.8,"c":0.14},
{"n":215,"o":0,"w":1,"s":1,"a":0,"r":1,"t":0,"z":1,"b":1,"d":0,"h":0.060,"q":12.0,"c":0.45},
{"n":216,"o":0,"w":1,"s":1,"a":0,"r":1,"t":0,"z":1,"b":1,"d":1,"h":0.058,"q":12.5,"c":0.46},
{"n":217,"o":0,"w":1,"s":1,"a":0,"r":1,"t":1,"z":0,"b":0,"d":0,"h":0.058,"q":13.5,"c":0.415},
{"n":218,"o":0,"w":1,"s":1,"a":0,"r":1,"t":1,"z":0,"b":0,"d":1,"h":0.059,"q":14.0,"c":0.39},
{"n":219,"o":0,"w":1,"s":1,"a":0,"r":1,"t":1,"z":0,"b":1,"d":0,"h":0.081,"q":14.8,"c":0.38},
{"n":220,"o":0,"w":1,"s":1,"a":0,"r":1,"t":1,"z":0,"b":1,"d":1,"h":0.080,"q":15.3,"c":0.385},
{"n":221,"o":0,"w":1,"s":1,"a":0,"r":1,"t":1,"z":1,"b":0,"d":0,"h":0.028,"q":15.8,"c":0.35},
{"n":222,"o":0,"w":1,"s":1,"a":0,"r":1,"t":1,"z":1,"b":0,"d":1,"h":0.029,"q":16.3,"c":0.33},
{"n":223,"o":0,"w":1,"s":1,"a":0,"r":1,"t":1,"z":1,"b":1,"d":0,"h":0.036,"q":15.0,"c":0.41},
{"n":224,"o":0,"w":1,"s":1,"a":0,"r":1,"t":1,"z":1,"b":1,"d":1,"h":0.037,"q":15.5,"c":0.385},
{"n":225,"o":0,"w":1,"s":1,"a":1,"r":0,"t":0,"z":0,"b":0,"d":0,"h":0.059,"q":13.0,"c":0.155},
{"n":226,"o":0,"w":1,"s":1,"a":1,"r":0,"t":0,"z":0,"b":0,"d":1,"h":0.057,"q":12.5,"c":0.166},
{"n":227,"o":0,"w":1,"s":1,"a":1,"r":0,"t":0,"z":0,"b":1,"d":0,"h":0.068,"q":14.0,"c":0.274},
{"n":228,"o":0,"w":1,"s":1,"a":1,"r":0,"t":0,"z":0,"b":1,"d":1,"h":0.069,"q":14.3,"c":0.255},
{"n":229,"o":0,"w":1,"s":1,"a":1,"r":0,"t":0,"z":1,"b":0,"d":0,"h":0.085,"q":11.5,"c":0.176},
{"n":230,"o":0,"w":1,"s":1,"a":1,"r":0,"t":0,"z":1,"b":0,"d":1,"h":0.083,"q":11.8,"c":0.186},
{"n":231,"o":0,"w":1,"s":1,"a":1,"r":0,"t":0,"z":1,"b":1,"d":0,"h":0.111,"q":12.8,"c":0.20},
{"n":232,"o":0,"w":1,"s":1,"a":1,"r":0,"t":0,"z":1,"b":1,"d":1,"h":0.106,"q":13.3,"c":0.21},
{"n":233,"o":0,"w":1,"s":1,"a":1,"r":0,"t":1,"z":0,"b":0,"d":0,"h":0.055,"q":17.0,"c":0.526},
{"n":234,"o":0,"w":1,"s":1,"a":1,"r":0,"t":1,"z":0,"b":0,"d":1,"h":0.054,"q":16.5,"c":0.557},
{"n":235,"o":0,"w":1,"s":1,"a":1,"r":0,"t":1,"z":0,"b":1,"d":0,"h":0.078,"q":13.0,"c":0.35},
{"n":236,"o":0,"w":1,"s":1,"a":1,"r":0,"t":1,"z":0,"b":1,"d":1,"h":0.076,"q":13.5,"c":0.385},
{"n":237,"o":0,"w":1,"s":1,"a":1,"r":0,"t":1,"z":1,"b":0,"d":0,"h":0.027,"q":16.5,"c":0.284},
{"n":238,"o":0,"w":1,"s":1,"a":1,"r":0,"t":1,"z":1,"b":0,"d":1,"h":0.026,"q":15.8,"c":0.27},
{"n":239,"o":0,"w":1,"s":1,"a":1,"r":0,"t":1,"z":1,"b":1,"d":0,"h":0.044,"q":47,"c":0.196},
{"n":240,"o":0,"w":1,"s":1,"a":1,"r":0,"t":1,"z":1,"b":1,"d":1,"h":0.043,"q":45,"c":0.217},
{"n":241,"o":0,"w":1,"s":1,"a":1,"r":1,"t":0,"z":0,"b":0,"d":0,"h":0.035,"q":40,"c":0.245},
{"n":242,"o":0,"w":1,"s":1,"a":1,"r":1,"t":0,"z":0,"b":0,"d":1,"h":0.036,"q":38,"c":0.235},
{"n":243,"o":0,"w":1,"s":1,"a":1,"r":1,"t":0,"z":0,"b":1,"d":0,"h":0.042,"q":37,"c":0.215},
{"n":244,"o":0,"w":1,"s":1,"a":1,"r":1,"t":0,"z":0,"b":1,"d":1,"h":0.040,"q":39,"c":0.225},
{"n":245,"o":0,"w":1,"s":1,"a":1,"r":1,"t":0,"z":1,"b":0,"d":0,"h":0.054,"q":33,"c":0.14},
{"n":246,"o":0,"w":1,"s":1,"a":1,"r":1,"t":0,"z":1,"b":0,"d":1,"h":0.051,"q":31,"c":0.145},
{"n":247,"o":0,"w":1,"s":1,"a":1,"r":1,"t":0,"z":1,"b":1,"d":0,"h":0.035,"q":29,"c":0.15},
{"n":248,"o":0,"w":1,"s":1,"a":1,"r":1,"t":0,"z":1,"b":1,"d":1,"h":0.034,"q":30,"c":0.16},
{"n":249,"o":0,"w":1,"s":1,"a":1,"r":1,"t":1,"z":0,"b":0,"d":0,"h":0.048,"q":31,"c":0.485},
{"n":250,"o":0,"w":1,"s":1,"a":1,"r":1,"t":1,"z":0,"b":0,"d":1,"h":0.047,"q":32,"c":0.515},
{"n":251,"o":0,"w":1,"s":1,"a":1,"r":1,"t":1,"z":0,"b":1,"d":0,"h":0.046,"q":33,"c":0.325},
{"n":252,"o":0,"w":1,"s":1,"a":1,"r":1,"t":1,"z":0,"b":1,"d":1,"h":0.045,"q":32,"c":0.355},
{"n":253,"o":0,"w":1,"s":1,"a":1,"r":1,"t":1,"z":1,"b":0,"d":0,"h":0.012,"q":30,"c":0.217},
{"n":254,"o":0,"w":1,"s":1,"a":1,"r":1,"t":1,"z":1,"b":0,"d":1,"h":0.013,"q":31,"c":0.227},
{"n":255,"o":0,"w":1,"s":1,"a":1,"r":1,"t":1,"z":1,"b":1,"d":0,"h":0.016,"q":34,"c":0.155},
{"n":256,"o":0,"w":1,"s":1,"a":1,"r":1,"t":1,"z":1,"b":1,"d":1,"h":0.018,"q":35,"c":0.17}
]},
"vconcat":[
{"hconcat":[
 {"width":374,"height":282,
  "layer":[
   {"data":{"name":"sim"},
    "transform":[{"fold":["o","w","r","t","a","b","d","s","z"],"as":["k","v"]},
                 {"calculate":"8 - indexof(['o','w','r','t','a','b','d','s','z'], datum.k) + 0.335*datum.v","as":"yy"}],
    "mark":{"type":"line","strokeWidth":1.1},
    "encoding":{
     "x":{"field":"n","type":"quantitative","scale":{"domain":[-49.9,256],"nice":false,"zero":false},
          "axis":{"values":[0,16,32,48,64,80,96,112,128,144,160,176,192,208,224,240,256],"labelExpr":"datum.value % 32 === 0 ? datum.label : ''","tickSize":{"condition":{"test":"datum.value % 32 === 0","value":7},"value":4},"grid":true,"gridColor":"#707070","gridDash":[4,3],"gridWidth":1,"gridOpacity":{"condition":{"test":"datum.value % 32 === 0 && datum.value > 0","value":1},"value":0},"domain":false,"labelFontSize":19,"title":"Simulation Number","titleFontSize":20,"titleX":217,"titlePadding":10}},
     "y":{"field":"yy","type":"quantitative","scale":{"domain":[-0.161,8.924],"nice":false,"zero":false},"axis":null},
     "color":{"field":"k","type":"nominal","scale":{"domain":["o","w","r","t","a","b","d","s","z"],"range":["#555555","#d96060","#3535c8","#e070e0","#3a963a","#3ee0e0","#8640c8","#e8b878","#aaaaaa"]},"legend":null}}},
   {"data":{"name":"sig"},
    "transform":[{"calculate":"8.17 - indexof(['o','w','r','t','a','b','d','s','z'], datum.k)","as":"yl"}],
    "mark":{"type":"rule","strokeWidth":1.2},
    "encoding":{
     "x":{"datum":-50,"type":"quantitative","scale":{"domain":[-49.9,256],"nice":false,"zero":false}},
     "x2":{"datum":-7},
     "y":{"field":"yl","type":"quantitative","scale":{"domain":[-0.161,8.924],"nice":false,"zero":false}},
     "color":{"field":"k","type":"nominal","scale":{"domain":["o","w","r","t","a","b","d","s","z"],"range":["#555555","#d96060","#3535c8","#e070e0","#3a963a","#3ee0e0","#8640c8","#e8b878","#aaaaaa"]},"legend":null}}},
   {"data":{"name":"sig"},
    "transform":[{"filter":"datum.k !== 'a' && datum.k !== 'b'"},{"calculate":"8.17 - indexof(['o','w','r','t','a','b','d','s','z'], datum.k)","as":"yl"}],
    "mark":{"type":"text","font":"Liberation Sans","fontSize":24,"align":"center","baseline":"middle","color":"#000"},
    "encoding":{
     "x":{"datum":-117.8,"type":"quantitative","scale":{"domain":[-49.9,256],"nice":false,"zero":false}},
     "y":{"field":"yl","type":"quantitative","scale":{"domain":[-0.161,8.924],"nice":false,"zero":false}},
     "text":{"field":"lab"}}},
   {"data":{"name":"sig"},
    "transform":[{"filter":"datum.k === 'a' || datum.k === 'b'"},{"calculate":"8.17 - indexof(['o','w','r','t','a','b','d','s','z'], datum.k)","as":"yl"}],
    "mark":{"type":"text","font":"Liberation Serif","fontSize":25,"align":"center","baseline":"middle","color":"#000"},
    "encoding":{
     "x":{"datum":-122,"type":"quantitative","scale":{"domain":[-49.9,256],"nice":false,"zero":false}},
     "y":{"field":"yl","type":"quantitative","scale":{"domain":[-0.161,8.924],"nice":false,"zero":false}},
     "text":{"field":"lab"}}},
   {"data":{"values":[{"u":0,"v":256}]},
    "mark":{"type":"rule","strokeWidth":2,"color":"#000"},
    "encoding":{
     "x":{"field":"u","type":"quantitative","scale":{"domain":[-49.9,256],"nice":false,"zero":false}},
     "x2":{"field":"v"},
     "y":{"datum":-0.161,"type":"quantitative","scale":{"domain":[-0.161,8.924],"nice":false,"zero":false}}}},
   {"data":{"values":[{"t":"(a)"}]},
    "mark":{"type":"text","font":"Lato","fontSize":40,"align":"center","baseline":"middle","color":"#000"},
    "encoding":{
     "x":{"datum":-134,"type":"quantitative","scale":{"domain":[-49.9,256],"nice":false,"zero":false}},
     "y":{"datum":-1.8,"type":"quantitative","scale":{"domain":[-0.161,8.924],"nice":false,"zero":false}},
     "text":{"field":"t"}}}
  ]},
 {"width":389,"height":282,
  "layer":[
   {"data":{"name":"sim"},
    "mark":{"type":"circle","size":42,"color":"#000080","opacity":1},
    "encoding":{
     "x":{"field":"n","type":"quantitative","scale":{"domain":[0,272],"nice":false,"zero":false},
          "axis":{"values":[0,16,32,48,64,80,96,112,128,144,160,176,192,208,224,240,256],"labelExpr":"datum.value % 32 === 0 ? datum.label : ''","tickSize":{"condition":{"test":"datum.value % 32 === 0","value":7},"value":4},"grid":true,"gridColor":"#707070","gridDash":[3,3],"gridWidth":1,"gridOpacity":{"condition":{"test":"datum.value % 32 === 0 && datum.value > 0","value":1},"value":0},"title":"Simulation Number","titlePadding":6}},
     "y":{"field":"h","type":"quantitative","scale":{"domain":[0,0.3],"nice":false,"zero":false},
          "axis":{"values":[0,0.025,0.05,0.075,0.1,0.125,0.15,0.175,0.2,0.225,0.25,0.275,0.3],"labelExpr":"round(datum.value*1000) % 50 === 0 ? format(datum.value,'.2f') : ''","tickSize":{"condition":{"test":"round(datum.value*1000) % 50 === 0","value":7},"value":4},"title":"Homogeneity","titlePadding":8,"titleY":154}}}},
   {"data":{"values":[{"t":"(b)"}]},
    "mark":{"type":"text","font":"Lato","fontSize":40,"align":"center","baseline":"middle","color":"#000"},
    "encoding":{
     "x":{"datum":-50.3,"type":"quantitative","scale":{"domain":[0,272],"nice":false,"zero":false}},
     "y":{"datum":-0.05,"type":"quantitative","scale":{"domain":[0,0.3],"nice":false,"zero":false}},
     "text":{"field":"t"}}}
  ]}
 ],"spacing":141,"bounds":"flush"},
{"hconcat":[
 {"width":389,"height":291,
  "layer":[
   {"data":{"name":"sim"},
    "mark":{"type":"circle","size":42,"color":"#000080","opacity":1},
    "encoding":{
     "x":{"field":"n","type":"quantitative","scale":{"domain":[0,269],"nice":false,"zero":false},
          "axis":{"values":[0,16,32,48,64,80,96,112,128,144,160,176,192,208,224,240,256],"labelExpr":"datum.value % 32 === 0 ? datum.label : ''","tickSize":{"condition":{"test":"datum.value % 32 === 0","value":7},"value":4},"grid":true,"gridColor":"#707070","gridDash":[3,3],"gridWidth":1,"gridOpacity":{"condition":{"test":"datum.value % 32 === 0 && datum.value > 0","value":1},"value":0},"title":"Simulation Number","titlePadding":6}},
     "y":{"field":"q","type":"quantitative","scale":{"type":"log","domain":[1,100],"nice":false},
          "axis":{"values":[1,2,3,4,5,6,7,8,9,10,20,30,40,50,60,70,80,90,100],"format":"~g","labelExpr":"datum.value === 1 || datum.value === 10 || datum.value === 100 ? datum.label : ''","tickSize":{"condition":{"test":"datum.value === 1 || datum.value === 10 || datum.value === 100","value":7},"value":4},"title":"Geometric Ratio","titlePadding":16}}}},
   {"data":{"values":[{"t":"(c)"}]},
    "mark":{"type":"text","font":"Lato","fontSize":40,"align":"center","baseline":"middle","color":"#000"},
    "encoding":{
     "x":{"datum":-72,"type":"quantitative","scale":{"domain":[0,269],"nice":false,"zero":false}},
     "y":{"datum":0.55,"type":"quantitative","scale":{"type":"log","domain":[1,100],"nice":false}},
     "text":{"field":"t"}}}
  ]},
 {"width":394,"height":290,
  "layer":[
   {"data":{"name":"sim"},
    "mark":{"type":"circle","size":42,"color":"#000080","opacity":1},
    "encoding":{
     "x":{"field":"n","type":"quantitative","scale":{"domain":[0,270],"nice":false,"zero":false},
          "axis":{"values":[0,16,32,48,64,80,96,112,128,144,160,176,192,208,224,240,256],"labelExpr":"datum.value % 32 === 0 ? datum.label : ''","tickSize":{"condition":{"test":"datum.value % 32 === 0","value":7},"value":4},"grid":true,"gridColor":"#707070","gridDash":[3,3],"gridWidth":1,"gridOpacity":{"condition":{"test":"datum.value % 32 === 0 && datum.value > 0","value":1},"value":0},"title":"Simulation Number","titlePadding":6}},
     "y":{"field":"c","type":"quantitative","scale":{"domain":[0,0.9],"nice":false,"zero":false},
          "axis":{"values":[0,0.1,0.2,0.3,0.4,0.5,0.6,0.7,0.8,0.9],"labelExpr":"round(datum.value*10) % 2 === 0 && datum.value < 0.85 ? format(datum.value,'.1f') : ''","tickSize":{"condition":{"test":"round(datum.value*10) % 2 === 0","value":7},"value":4},"title":"Confinement","titlePadding":12,"titleY":160}}}},
   {"data":{"values":[{"t":"(d)"}]},
    "mark":{"type":"text","font":"Lato","fontSize":40,"align":"center","baseline":"middle","color":"#000"},
    "encoding":{
     "x":{"datum":-43.6,"type":"quantitative","scale":{"domain":[0,270],"nice":false,"zero":false}},
     "y":{"datum":-0.1235,"type":"quantitative","scale":{"domain":[0,0.9],"nice":false,"zero":false}},
     "text":{"field":"t"}}}
  ]}
 ],"spacing":128,"bounds":"flush"}
]
}
